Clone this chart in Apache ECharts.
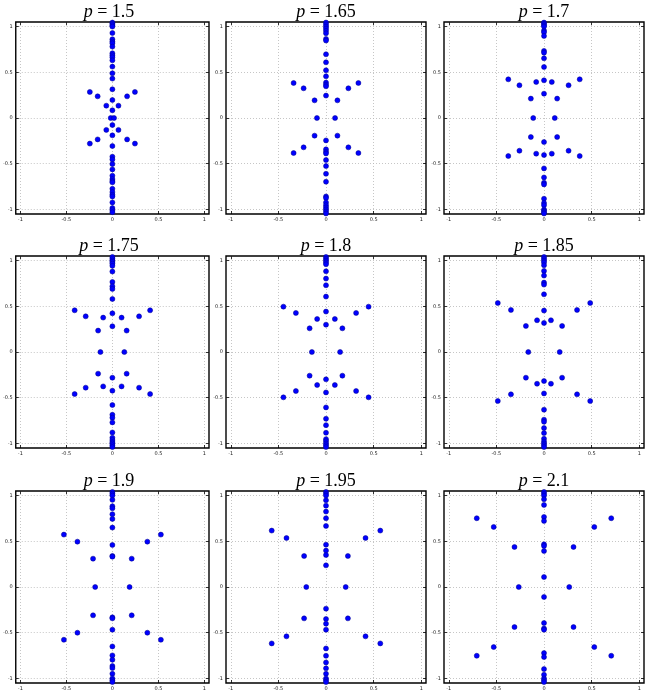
<!DOCTYPE html>
<html>
<head>
<meta charset="utf-8">
<script src="https://cdn.jsdelivr.net/npm/echarts@6/dist/echarts.min.js"></script>
<style>
  html, body { margin: 0; padding: 0; background: #fff; }
  #chart { width: 652px; height: 696px; }
</style>
</head>
<body>
<div id="chart"></div>
<script>
// p values shown in the panel titles
var pLabels = ['1.5', '1.65', '1.7', '1.75', '1.8', '1.85', '1.9', '1.95', '2.1'];
var tickValues = [-1, -0.5, 0, 0.5, 1];

/* roots lying on the imaginary axis (x = 0) */
var imagP150 = [1.044, 1.03, 1.015, 1.0, 0.93, 0.861, 0.836, 0.818, 0.781, 0.708, 0.686, 0.664, 0.631, 0.562, 0.489, 0.431, 0.314, 0.197, 0.084,
	-0.077, -0.19, -0.307, -0.423, -0.453, -0.504, -0.562, -0.631, -0.668, -0.69, -0.704, -0.774, -0.81, -0.84, -0.858, -0.923, -0.985, -1.007, -1.03];
var imagP165 = [1.044, 1.022, 1.0, 0.978, 0.953, 0.927, 0.865, 0.847, 0.697, 0.609, 0.522, 0.456, 0.387, 0.365, 0.347, 0.245,
	-0.245, -0.343, -0.369, -0.387, -0.46, -0.526, -0.61, -0.697, -0.858, -0.876, -0.923, -0.953, -0.978, -1.0, -1.022, -1.044];
var imagP170 = [1.044, 1.03, 1.015, 1.0, 0.956, 0.938, 0.898, 0.734, 0.715, 0.653, 0.558, 0.412, 0.266,
	-0.263, -0.405, -0.551, -0.65, -0.708, -0.726, -0.883, -0.93, -0.953, -1.0, -1.015, -1.03, -1.044];
var imagP175 = [1.04, 1.02, 1.0, 0.985, 0.967, 0.942, 0.88, 0.766, 0.719, 0.69, 0.58, 0.423, 0.281,
	-0.281, -0.423, -0.58, -0.686, -0.719, -0.77, -0.88, -0.938, -0.963, -0.985, -1.0, -1.02, -1.04];
var imagP180 = [1.04, 1.02, 1.0, 0.98, 0.96, 0.883, 0.803, 0.73, 0.606, 0.442, 0.299,
	-0.299, -0.442, -0.606, -0.73, -0.8, -0.883, -0.953, -0.975, -1.0, -1.02, -1.04];
var imagP185 = [1.04, 1.02, 1.0, 0.98, 0.949, 0.887, 0.836, 0.759, 0.737, 0.631, 0.453, 0.318,
	-0.318, -0.453, -0.631, -0.74, -0.763, -0.832, -0.887, -0.949, -0.98, -1.0, -1.02, -1.04];
var imagP190 = [1.04, 1.02, 1.0, 0.953, 0.883, 0.861, 0.796, 0.745, 0.65, 0.46, 0.34, 0.332,
	-0.332, -0.343, -0.467, -0.65, -0.748, -0.796, -0.865, -0.887, -0.949, -1.0, -1.02, -1.04];
var imagP195 = [1.04, 1.02, 1.0, 0.949, 0.89, 0.825, 0.752, 0.668, 0.463, 0.398, 0.35, 0.237,
	-0.237, -0.35, -0.401, -0.467, -0.672, -0.752, -0.825, -0.89, -0.949, -1.0, -1.02, -1.04];
var imagP210 = [1.04, 1.02, 1.0, 0.96, 0.898, 0.766, 0.723, 0.467, 0.449, 0.394, 0.109,
	-0.109, -0.394, -0.453, -0.467, -0.723, -0.766, -0.898, -0.96, -1.0, -1.02, -1.04];

/* roots off the imaginary axis [re, im] */
var starP150 = [[-0.245, 0.285], [0.245, 0.285], [-0.16, 0.237], [0.16, 0.237], [-0.066, 0.135], [0.066, 0.135], [-0.018, 0], [0.018, 0],
	[-0.066, -0.13], [0.066, -0.13], [-0.16, -0.234], [0.16, -0.234], [-0.245, -0.28], [0.245, -0.28]];
var starP165 = [[-0.34, 0.383], [0.34, 0.383], [-0.235, 0.325], [0.235, 0.325], [-0.12, 0.193], [0.12, 0.193], [-0.095, 0], [0.095, 0],
	[-0.12, -0.193], [0.12, -0.193], [-0.235, -0.321], [0.235, -0.321], [-0.34, -0.383], [0.34, -0.383]];
var starP170 = [[-0.375, 0.423], [0.375, 0.423], [-0.258, 0.358], [0.258, 0.358], [-0.082, 0.394], [0.082, 0.394], [-0.138, 0.212], [0.138, 0.212],
	[-0.113, 0], [0.113, 0], [-0.138, -0.208], [0.138, -0.208], [-0.082, -0.39], [0.082, -0.39], [-0.258, -0.358], [0.258, -0.358], [-0.375, -0.416], [0.375, -0.416]];
var starP175 = [[-0.41, 0.456], [0.41, 0.456], [-0.29, 0.39], [0.29, 0.39], [-0.1, 0.376], [0.1, 0.376], [-0.155, 0.234], [0.155, 0.234],
	[-0.13, 0], [0.13, 0], [-0.155, -0.237], [0.155, -0.237], [-0.1, -0.376], [0.1, -0.376], [-0.29, -0.39], [0.29, -0.39], [-0.41, -0.46], [0.41, -0.46]];
var starP180 = [[-0.447, 0.496], [0.447, 0.496], [-0.316, 0.427], [0.316, 0.427], [-0.093, 0.361], [0.093, 0.361], [-0.172, 0.259], [0.172, 0.259],
	[-0.148, 0], [0.148, 0], [-0.172, -0.259], [0.172, -0.259], [-0.093, -0.361], [0.093, -0.361], [-0.316, -0.427], [0.316, -0.427], [-0.447, -0.496], [0.447, -0.496]];
var starP185 = [[-0.485, 0.536], [0.485, 0.536], [-0.347, 0.46], [0.347, 0.46], [-0.073, 0.347], [0.073, 0.347], [-0.19, 0.285], [0.19, 0.285],
	[-0.165, 0], [0.165, 0], [-0.19, -0.281], [0.19, -0.281], [-0.073, -0.347], [0.073, -0.347], [-0.347, -0.463], [0.347, -0.463], [-0.485, -0.536], [0.485, -0.536]];
var starP190 = [[-0.527, 0.573], [0.527, 0.573], [-0.38, 0.496], [0.38, 0.496], [-0.21, 0.31], [0.21, 0.31], [-0.187, 0], [0.187, 0],
	[-0.21, -0.31], [0.21, -0.31], [-0.38, -0.5], [0.38, -0.5], [-0.527, -0.577], [0.527, -0.577]];
var starP195 = [[-0.57, 0.617], [0.57, 0.617], [-0.415, 0.536], [0.415, 0.536], [-0.23, 0.339], [0.23, 0.339], [-0.207, 0], [0.207, 0],
	[-0.23, -0.343], [0.23, -0.343], [-0.415, -0.54], [0.415, -0.54], [-0.57, -0.617], [0.57, -0.617]];
var starP210 = [[-0.706, 0.752], [0.706, 0.752], [-0.528, 0.657], [0.528, 0.657], [-0.31, 0.438], [0.31, 0.438], [-0.265, 0], [0.265, 0],
	[-0.31, -0.438], [0.31, -0.438], [-0.528, -0.657], [0.528, -0.657], [-0.706, -0.752], [0.706, -0.752]];

var imagRoots = [imagP150, imagP165, imagP170, imagP175, imagP180, imagP185, imagP190, imagP195, imagP210];
var starRoots = [starP150, starP165, starP170, starP175, starP180, starP185, starP190, starP195, starP210];

window.onload = function() {
	var chart = echarts.init(document.getElementById('chart'));

	var colLeft = [9, 226, 444];
	var rowTop = [22, 256, 491];
	var boxW = 200, boxH = 192;

	var grids = [], xAxes = [], yAxes = [], series = [], texts = [];

	function axisCommon(gridIndex, pos, labels, split) {
		return {
			type: 'value', gridIndex: gridIndex, position: pos,
			min: -1.05, max: 1.05,
			axisLine: { show: false, onZero: false },
			axisTick: { show: true, inside: true, length: 3, customValues: tickValues,
				lineStyle: { color: '#000', width: 0.8 } },
			axisLabel: { show: labels, customValues: tickValues, fontSize: 5, margin: 3,
				color: '#222', fontFamily: 'DejaVu Sans' },
			splitLine: { show: split, lineStyle: { color: '#b8b8b8', width: 0.8, type: [1, 2] } }
		};
	}

	for (var i = 0; i < 9; i++) {
		var left = colLeft[i % 3], top = rowTop[Math.floor(i / 3)];
		grids.push({ left: left, top: top, width: boxW, height: boxH, show: true,
			backgroundColor: '#fff', borderColor: '#000', borderWidth: 1.4 });
		xAxes.push(axisCommon(i, 'bottom', true, true));
		xAxes.push(axisCommon(i, 'top', false, false));
		yAxes.push(axisCommon(i, 'left', true, true));
		yAxes.push(axisCommon(i, 'right', false, false));

		var symbolStyle = { color: '#0000ff', borderColor: '#00008a', borderWidth: 0.5, opacity: 1 };
		series.push({
			type: 'scatter', xAxisIndex: i * 2, yAxisIndex: i * 2,
			symbolSize: 5, itemStyle: symbolStyle, clip: false,
			data: imagRoots[i].map(function(v) { return [0, v]; })
		});
		series.push({
			type: 'scatter', xAxisIndex: i * 2, yAxisIndex: i * 2,
			symbolSize: 5, itemStyle: symbolStyle, clip: false,
			data: starRoots[i]
		});

		/* 标题 */
		texts.push({
			type: 'text', x: left + boxW / 2, y: top - 10,
			style: {
				text: '{i|p} = ' + pLabels[i],
				fontSize: 18, fontFamily: 'Liberation Serif', fill: '#000',
				textAlign: 'center', textVerticalAlign: 'middle', verticalAlign: 'middle',
				rich: { i: { fontStyle: 'italic', fontSize: 18, fontFamily: 'Liberation Serif' } }
			}
		});
	}

	chart.setOption({
		animation: false,
		backgroundColor: '#fff',
		grid: grids,
		xAxis: xAxes,
		yAxis: yAxes,
		series: series,
		graphic: texts
	});
};
</script>
</body>
</html>
